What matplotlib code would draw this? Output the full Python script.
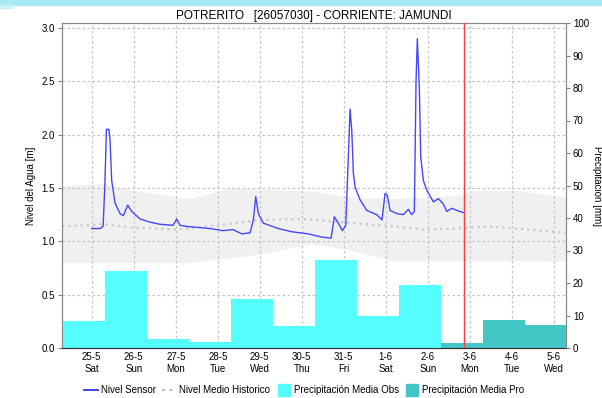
import matplotlib
matplotlib.use("Agg")
import matplotlib.pyplot as plt
import numpy as np
from matplotlib.lines import Line2D
from matplotlib.patches import Rectangle

plt.rcParams['font.family'] = ['Liberation Sans', 'DejaVu Sans']

# time axis in days since 25-5 00:00
day_labels = ["25-5\nSat", "26-5\nSun", "27-5\nMon", "28-5\nTue", "29-5\nWed", "30-5\nThu",
              "31-5\nFri", "1-6\nSat", "2-6\nSun", "3-6\nMon", "4-6\nTue", "5-6\nWed"]

# Nivel Sensor [m]
sensor_t = [0.0, 0.2, 0.27, 0.31, 0.35, 0.41, 0.435, 0.475, 0.554, 0.673, 0.751, 0.856, 0.951,
            1.149, 1.387, 1.625, 1.935, 2.023, 2.101, 2.261, 2.816, 3.125, 3.363, 3.571, 3.768,
            3.847, 3.904, 3.966, 4.085, 4.442, 4.761, 5.156, 5.475, 5.697, 5.775, 5.871, 5.966,
            6.047, 6.109, 6.149, 6.190, 6.228, 6.268, 6.387, 6.547, 6.785, 6.91, 6.983, 7.038,
            7.101, 7.261, 7.418, 7.537, 7.618, 7.680, 7.720, 7.751, 7.799, 7.832, 7.895, 7.975,
            8.132, 8.251, 8.370, 8.451, 8.570, 8.689, 8.847]
sensor_v = [1.12, 1.12, 1.14, 1.50, 2.05, 2.05, 1.95, 1.57, 1.36, 1.26, 1.24, 1.34, 1.28,
            1.21, 1.18, 1.16, 1.15, 1.21, 1.15, 1.14, 1.12, 1.10, 1.11, 1.07, 1.08,
            1.20, 1.42, 1.26, 1.17, 1.12, 1.09, 1.07, 1.04, 1.03, 1.23, 1.17, 1.10,
            1.15, 1.80, 2.24, 2.04, 1.64, 1.51, 1.39, 1.29, 1.25, 1.20, 1.45, 1.43,
            1.29, 1.26, 1.25, 1.30, 1.25, 1.28, 2.50, 2.90, 2.43, 1.79, 1.57, 1.48,
            1.37, 1.40, 1.35, 1.28, 1.31, 1.29, 1.27]

# Nivel Medio Historico [m]
mean_t = [-0.708, 0.27, 0.98, 2.03, 3.22, 3.96, 5.01, 5.96, 6.58, 7.22, 7.88, 8.70, 9.41, 10.43, 11.29]
mean_v = [1.14, 1.16, 1.13, 1.11, 1.16, 1.20, 1.21, 1.18, 1.16, 1.14, 1.11, 1.12, 1.14, 1.11, 1.08]

# historic range band
band_hi_t = [-0.708, 0.27, 0.98, 2.34, 3.29, 5.24, 6.34, 7.22, 8.70, 9.17, 10.13, 11.29]
band_hi_v = [1.52, 1.545, 1.48, 1.40, 1.50, 1.47, 1.41, 1.40, 1.43, 1.48, 1.48, 1.41]
band_lo_t = [-0.708, 2.27, 3.22, 4.17, 5.24, 5.98, 7.17, 9.17, 11.29]
band_lo_v = [0.80, 0.80, 0.84, 0.89, 0.98, 0.93, 0.82, 0.82, 0.815]

# daily precipitation [mm], bars starting at each day boundary
obs_start = [-1.69, -0.69, 0.31, 1.31, 2.31, 3.31, 4.31, 5.31, 6.31, 7.31]
obs_mm = [17.0, 8.4, 23.8, 2.7, 1.9, 15.2, 6.8, 27.1, 9.9, 19.5]
pro_start = [8.31, 9.31, 10.31]
pro_mm = [1.6, 8.6, 7.1]

now_t = 8.86

fig = plt.figure(figsize=(6.02, 3.98), dpi=100)
fig.patches.append(Rectangle((0, 1 - 5 / 398), 1, 5 / 398, transform=fig.transFigure,
                             color='#a6eaf6', zorder=0))
fig.patches.append(Rectangle((0, 1 - 8 / 398), 13 / 602, 3 / 398, transform=fig.transFigure,
                             color='#c8f2fa', zorder=0))

ax = fig.add_axes([62 / 602, 1 - 348 / 398, 504 / 602, 325 / 398])
ax2 = ax.twinx()

grid_t = np.linspace(-0.708, 11.29, 300)
ax.fill_between(grid_t, np.interp(grid_t, band_lo_t, band_lo_v), np.interp(grid_t, band_hi_t, band_hi_v),
                color='#f0f0f0', lw=0, zorder=0.2)
ax.set_axisbelow(True)
ax.grid(True, color='#c4c4c4', linestyle=(0, (2, 2)), lw=0.9)
ax.plot(mean_t, mean_v, color='#c8c8c8', lw=1.6, linestyle=(0, (1, 1.8)), zorder=2)
ax.plot(sensor_t, sensor_v, color='#4646ff', lw=1.0, zorder=3)

ax2.bar(obs_start, obs_mm, width=1.0, align='edge', color='#55ffff', lw=0, zorder=1)
ax2.bar(pro_start, pro_mm, width=1.0, align='edge', color='#45c6c6', lw=0, zorder=1)
ax2.axvline(now_t, color='#ff3c3c', lw=1.0, zorder=4)

ax.set_xlim(-0.708, 11.29)
ax.set_ylim(0, 3.047)
ax2.set_ylim(0, 100)
ax.set_xticks(range(len(day_labels)))
ax.set_xticklabels(day_labels, fontsize=7, linespacing=1.2)
ax.set_yticks([0, 0.5, 1.0, 1.5, 2.0, 2.5, 3.0])
ax.set_yticklabels(["0.0", "0.5", "1.0", "1.5", "2.0", "2.5", "3.0"], fontsize=7)
ax2.set_yticks(range(0, 101, 10))
ax2.tick_params(axis='y', labelsize=7, length=3, color='#808080', pad=2)
ax.tick_params(axis='y', length=3, color='#808080', pad=2)
ax.tick_params(axis='x', length=0, pad=3)

for a in (ax, ax2):
    for s in ('left', 'right', 'top'):
        a.spines[s].set_color('#8a8a8a')
    a.spines['bottom'].set_color('#303030')
    a.spines['bottom'].set_linestyle((0, (1, 1)))

ax.set_ylabel("Nivel del Agua [m]", fontsize=7, labelpad=4)
ax2.set_ylabel("Precipitación [mm]", fontsize=7, rotation=270, labelpad=9)
ax.set_title("POTRERITO   [26057030] - CORRIENTE: JAMUNDI", fontsize=8.5, pad=3)

handles = [
    Line2D([], [], color='#2020e0', lw=1.2),
    Line2D([], [], color='#c0c0c0', lw=1.5, linestyle=(0, (1.5, 2))),
    Line2D([], [], color='#55ffff', marker='s', markersize=8, linestyle='none'),
    Line2D([], [], color='#45c6c6', marker='s', markersize=8, linestyle='none'),
]
labels = ["Nivel Sensor", "Nivel Medio Historico", "Precipitación Media Obs", "Precipitación Media Pro"]
fig.legend(handles, labels, loc='center', bbox_to_anchor=(0.505, 0.02), ncol=4, frameon=False,
           fontsize=7, handlelength=1.5, handletextpad=0.3, columnspacing=0.6)

fig.savefig("out.png", dpi=100)
